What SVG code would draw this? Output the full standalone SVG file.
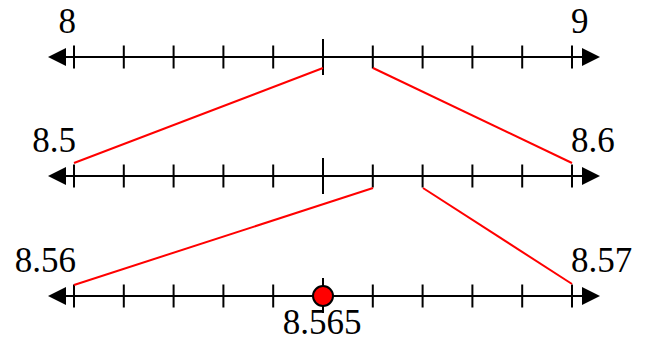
<svg xmlns="http://www.w3.org/2000/svg" width="651" height="341" viewBox="0 0 651 341">
<defs>
<style>
.ax{stroke:#000;stroke-width:2;fill:none}
.tk{stroke:#000;stroke-width:2}
.rd{stroke:#ff0000;stroke-width:2;fill:none}
.ah{fill:#000}
.lb{font-family:"Liberation Serif","Times New Roman",serif;font-size:35px;fill:#000}
</style>
<g id="ticks">
<path class="tk" d="M74,-11.5V11.5M123.8,-11.5V11.5M173.6,-11.5V11.5M223.4,-11.5V11.5M273.2,-11.5V11.5M372.8,-11.5V11.5M422.6,-11.5V11.5M472.4,-11.5V11.5M522.2,-11.5V11.5M572,-11.5V11.5"/>
<polygon class="ah" points="48,0 66,-9 66,9"/>
<polygon class="ah" points="600,0 582,-9 582,9"/>
<line class="ax" x1="60" y1="0" x2="588" y2="0"/>
</g>
</defs>
<rect width="651" height="341" fill="#fff"/>
<g id="line1">
<use href="#ticks" y="57"/>
<line class="tk" x1="323" y1="39" x2="323" y2="75"/>
<text class="lb" x="76" y="33" text-anchor="end">8</text>
<text class="lb" x="571" y="33">9</text>
</g>
<g id="line2">
<use href="#ticks" y="176"/>
<line class="tk" x1="323" y1="158" x2="323" y2="194"/>
<text class="lb" x="76" y="152" text-anchor="end">8.5</text>
<text class="lb" x="571" y="152">8.6</text>
</g>
<g id="line3">
<use href="#ticks" y="296"/>
<line class="tk" x1="323" y1="278" x2="323" y2="313"/>
<text class="lb" x="76" y="272" text-anchor="end">8.56</text>
<text class="lb" x="571" y="272">8.57</text>
</g>
<g id="point">
<circle cx="323" cy="296" r="10" fill="#ff0000" stroke="#000" stroke-width="2"/>
<text class="lb" x="322" y="334" text-anchor="middle">8.565</text>
</g>
<g id="connectors">
<line class="rd" x1="323" y1="68" x2="74" y2="163"/>
<line class="rd" x1="373" y1="68" x2="572" y2="163"/>
<line class="rd" x1="373" y1="188" x2="74" y2="285"/>
<line class="rd" x1="423" y1="188" x2="572" y2="284"/>
</g>
</svg>
